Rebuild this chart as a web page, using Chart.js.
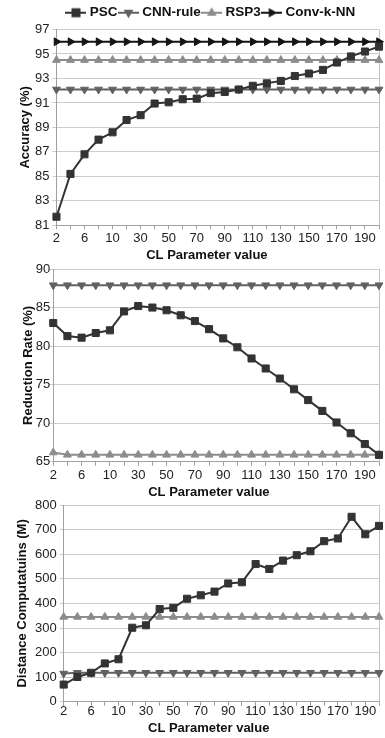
<!DOCTYPE html>
<html>
<head>
<meta charset="utf-8">
<script src="https://cdn.jsdelivr.net/npm/chart.js@4.4.1/dist/chart.umd.min.js"></script>
<style>
  html, body { margin: 0; padding: 0; background: #fff; }
  body { width: 385px; height: 738px; position: relative; overflow: hidden; }
  .box { position: absolute; left: 0; width: 385px; }
</style>
</head>
<body>
<div class="box" style="top:0;height:263px"><canvas id="accChart"></canvas></div>
<div class="box" style="top:260px;height:240px"><canvas id="redChart"></canvas></div>
<div class="box" style="top:490px;height:248px"><canvas id="distChart"></canvas></div>
<script>
// CL parameter values (x axis)
var clValues = ['2', '4', '6', '8', '10', '20', '30', '40', '50', '60', '70', '80',
                '90', '100', '110', '120', '130', '140', '150', '160', '170', '180', '190', '200'];

// Accuracy (%)
var accPSC  = [81.7, 85.2, 86.8, 88.0, 88.6, 89.6, 90.0, 90.95, 91.05, 91.3, 91.35, 91.8,
               91.9, 92.1, 92.4, 92.6, 92.8, 93.2, 93.4, 93.7, 94.3, 94.8, 95.2, 95.6];
var accCNN  = [92.1, 92.1, 92.1, 92.1, 92.1, 92.1, 92.1, 92.1, 92.1, 92.1, 92.1, 92.1,
               92.1, 92.1, 92.1, 92.1, 92.1, 92.1, 92.1, 92.1, 92.1, 92.1, 92.1, 92.1];
var accRSP3 = [94.5, 94.5, 94.5, 94.5, 94.5, 94.5, 94.5, 94.5, 94.5, 94.5, 94.5, 94.5,
               94.5, 94.5, 94.5, 94.5, 94.5, 94.5, 94.5, 94.5, 94.5, 94.5, 94.5, 94.5];
var accConv = [96.0, 96.0, 96.0, 96.0, 96.0, 96.0, 96.0, 96.0, 96.0, 96.0, 96.0, 96.0,
               96.0, 96.0, 96.0, 96.0, 96.0, 96.0, 96.0, 96.0, 96.0, 96.0, 96.0, 96.0];

// Reduction rate (%)
var redPSC  = [83.0, 81.3, 81.1, 81.7, 82.05, 84.5, 85.2, 85.0, 84.65, 84.0, 83.25, 82.2,
               81.0, 79.85, 78.4, 77.1, 75.8, 74.4, 73.0, 71.6, 70.1, 68.7, 67.3, 65.9];
var redCNN  = [87.9, 87.9, 87.9, 87.9, 87.9, 87.9, 87.9, 87.9, 87.9, 87.9, 87.9, 87.9,
               87.9, 87.9, 87.9, 87.9, 87.9, 87.9, 87.9, 87.9, 87.9, 87.9, 87.9, 87.9];
var redRSP3 = [66.2, 65.9, 65.9, 65.9, 65.9, 65.9, 65.9, 65.9, 65.9, 65.9, 65.9, 65.9,
               65.9, 65.9, 65.9, 65.9, 65.9, 65.9, 65.9, 65.9, 65.9, 65.9, 65.9, 65.9];

// Distance computations (M)
var distPSC  = [70, 101, 118, 156, 173, 301, 311, 377, 382, 419, 433, 448,
                481, 486, 560, 540, 574, 596, 612, 653, 664, 752, 681, 715];
var distCNN  = [115, 118, 118, 118, 118, 118, 118, 118, 118, 118, 118, 118,
                118, 118, 118, 118, 118, 118, 118, 118, 118, 118, 118, 118];
var distRSP3 = [345, 345, 345, 345, 345, 345, 345, 345, 345, 345, 345, 345,
                345, 345, 345, 345, 345, 345, 345, 345, 345, 345, 345, 345];

var FONT = "'Liberation Sans', Arial, sans-serif";
var NB = '\u00a0';

// look of each method: colour, point shape, rotation
var styles = {
    'PSC':       { color: '#333333', shape: 'rect',     rot: 0 },
    'CNN-rule':  { color: '#616161', shape: 'triangle', rot: 180 },
    'RSP3':      { color: '#8c8c8c', shape: 'triangle', rot: 0 },
    'Conv-k-NN': { color: '#151515', shape: 'triangle', rot: 90 }
};

function makeDataset(name, values) {
    var s = styles[name];
    return {
        label: name,
        data: values,
        borderColor: s.color,
        backgroundColor: s.color,
        borderWidth: 2,
        pointStyle: s.shape,
        pointRotation: s.rot,
        pointRadius: s.shape === 'rect' ? 5 : 4.5,
        pointBackgroundColor: s.color,
        pointBorderColor: s.color,
        pointBorderWidth: 1,
        tension: 0
    };
}

// small line+marker picture for the legend
function legendIcon(name) {
    var s = styles[name];
    var c = document.createElement('canvas');
    c.width = 21; c.height = 12;
    var g = c.getContext('2d');
    g.strokeStyle = s.color;
    g.fillStyle = s.color;
    g.lineWidth = 2;
    g.beginPath(); g.moveTo(0, 6); g.lineTo(21, 6); g.stroke();
    g.save();
    g.translate(10.5, 6);
    g.rotate(s.rot * Math.PI / 180);
    g.beginPath();
    if (s.shape === 'rect') {
        g.rect(-4.5, -4.5, 9, 9);
    } else {
        g.moveTo(0, -5.5); g.lineTo(4.8, 3); g.lineTo(-4.8, 3); g.closePath();
    }
    g.fill();
    g.restore();
    return c;
}

// right edge of the plot box
var boxBorder = {
    id: 'boxBorder',
    beforeDatasetsDraw: function(chart) {
        var a = chart.chartArea, ctx = chart.ctx;
        ctx.save();
        ctx.strokeStyle = '#c4c4c4';
        ctx.lineWidth = 1;
        ctx.beginPath();
        ctx.moveTo(Math.round(a.right) + 0.5, a.top);
        ctx.lineTo(Math.round(a.right) + 0.5, a.bottom);
        ctx.stroke();
        ctx.restore();
    }
};

function makeOptions(cfg) {
    return {
        responsive: true,
        maintainAspectRatio: false,
        animation: false,
        layout: { padding: cfg.padding },
        plugins: {
            legend: cfg.legend ? {
                display: true,
                position: 'top',
                fullSize: false,
                labels: {
                    usePointStyle: true,
                    pointStyleWidth: 14,
                    padding: 4,
                    color: '#111',
                    font: { family: FONT, size: 13.5, weight: 'bold' },
                    generateLabels: function(chart) {
                        var n = chart.data.datasets.length;
                        return chart.data.datasets.map(function(ds, i) {
                            return {
                                // a little trailing space on the last entry nudges the row left
                                text: ds.label + (i === n - 1 ? NB.repeat(3) : ''),
                                pointStyle: legendIcon(ds.label),
                                fillStyle: ds.borderColor,
                                strokeStyle: ds.borderColor,
                                lineWidth: 0,
                                fontColor: '#111',
                                datasetIndex: i
                            };
                        });
                    }
                }
            } : { display: false },
            tooltip: { enabled: false }
        },
        scales: {
            x: {
                offset: false,
                grid: { display: true, drawOnChartArea: false, drawTicks: true, tickLength: 4, color: '#a0a0a0' },
                border: { display: true, color: '#a0a0a0', width: 1 },
                ticks: {
                    autoSkip: false,
                    maxRotation: 0,
                    minRotation: 0,
                    padding: cfg.xPad,
                    color: '#222',
                    font: { family: FONT, size: 13 },
                    callback: function(val, i) {
                        return i % 2 === 0 ? this.getLabelForValue(val) : '';
                    }
                },
                title: {
                    display: true,
                    // trailing spaces pull the centred title a bit to the left, as in the original
                    text: 'CL Parameter value' + NB.repeat(cfg.xShift),
                    color: '#111',
                    padding: { top: cfg.xTitleTop, bottom: 0 },
                    font: { family: FONT, size: 13, weight: 'bold' }
                }
            },
            y: {
                min: cfg.min,
                max: cfg.max,
                grid: { color: '#cccccc', tickLength: 4 },
                border: { display: true, color: '#a0a0a0', width: 1 },
                ticks: {
                    stepSize: cfg.step,
                    padding: cfg.yPad,
                    color: '#222',
                    font: { family: FONT, size: 13 }
                },
                title: {
                    display: true,
                    text: cfg.yTitle,
                    color: '#111',
                    padding: { top: 0, bottom: cfg.yTitleGap },
                    font: { family: FONT, size: 13, weight: 'bold', lineHeight: 1 }
                }
            }
        }
    };
}

new Chart(document.getElementById('accChart').getContext('2d'), {
    type: 'line',
    data: {
        labels: clValues,
        datasets: [
            makeDataset('PSC', accPSC),
            makeDataset('CNN-rule', accCNN),
            makeDataset('RSP3', accRSP3),
            makeDataset('Conv-k-NN', accConv)
        ]
    },
    options: makeOptions({
        legend: true, min: 81, max: 97, step: 2, yTitle: 'Accuracy (%)',
        xPad: 1.5, xTitleTop: -0.5, xShift: 6, yPad: 3, yTitleGap: 0,
        padding: { left: 19, right: 4, top: 2, bottom: 0 }
    }),
    plugins: [boxBorder]
});

new Chart(document.getElementById('redChart').getContext('2d'), {
    type: 'line',
    data: {
        labels: clValues,
        datasets: [
            makeDataset('PSC', redPSC),
            makeDataset('CNN-rule', redCNN),
            makeDataset('RSP3', redRSP3)
        ]
    },
    options: makeOptions({
        legend: false, min: 65, max: 90, step: 5, yTitle: 'Reduction Rate (%)',
        xPad: 1.5, xTitleTop: 0, xShift: 4, yPad: -1, yTitleGap: 2,
        padding: { left: 21.8, right: 3, top: 9, bottom: 0 }
    }),
    plugins: [boxBorder]
});

new Chart(document.getElementById('distChart').getContext('2d'), {
    type: 'line',
    data: {
        labels: clValues,
        datasets: [
            makeDataset('PSC', distPSC),
            makeDataset('CNN-rule', distCNN),
            makeDataset('RSP3', distRSP3)
        ]
    },
    options: makeOptions({
        legend: false, min: 0, max: 800, step: 100, yTitle: 'Distance Computatuins (M)',
        xPad: -2, xTitleTop: 3, xShift: 7, yPad: 3, yTitleGap: 3.5,
        padding: { left: 15.5, right: 1, top: 15, bottom: 2 }
    }),
    plugins: [boxBorder]
});
</script>
</body>
</html>
